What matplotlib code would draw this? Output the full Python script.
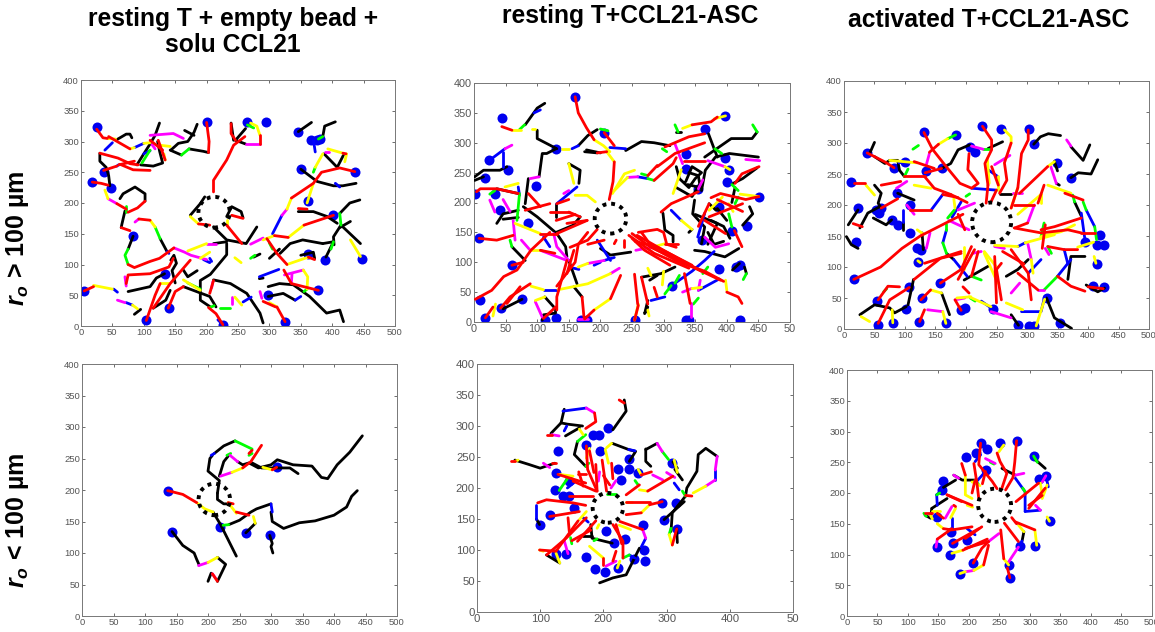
import matplotlib
matplotlib.use('Agg')
import matplotlib.pyplot as plt
from matplotlib.patches import Circle

plt.rcParams['font.family'] = ['Liberation Sans', 'DejaVu Sans']
plt.rcParams['mathtext.fontset'] = 'custom'
plt.rcParams['mathtext.bfit'] = 'Liberation Sans:italic:bold'
plt.rcParams['mathtext.bf'] = 'Liberation Sans:bold'

col_titles = ["resting T + empty bead +\nsolu CCL21", "resting T+CCL21-ASC", "activated T+CCL21-ASC"]
row_titles = [r"$\mathbfit{r}_{\mathbfit{o}}$ > 100 µm", r"$\mathbfit{r}_{\mathbfit{o}}$ < 100 µm"]

# panel A: resting T, empty bead, far
a_dots = [(25,323),(200,331),(265,332),(294,332),(345,316),(367,303),(376,303),(380,304),(37,251),(18,234),(47,225),
          (350,255),(437,250),(362,204),(402,180),(83,146),(362,117),(388,108),(447,109),(133,84),(5,57),(140,30),
          (104,9),(226,2),(297,50),(325,6),(378,58)]
a_center = (212,185)
a_black = [[(57,303),(72,312),(78,312),(81,306)],[(30,281),(30,268),(40,258),(44,245),(46,228)],
           [(89,262),(100,280),(110,296),(118,310),(125,330)],[(95,262),(115,260),(130,265),(125,285),(122,300)],
           [(142,286),(160,278)],[(172,288),(195,284),(203,282)],[(143,286),(155,297),(170,300),(180,315),(185,328)],
           [(165,318),(180,310)],[(62,207),(67,215),(86,226),(102,215),(102,203)],[(70,187),(65,165),(64,160)],
           [(83,146),(75,125)],[(126,142),(137,121)],[(115,29),(135,42),(142,58)],[(75,56),(110,64),(120,78),(133,85)],
           [(143,107),(148,115),(152,102),(145,90),(150,70)],[(232,134),(232,116),(206,84),(190,74),(190,42),(206,31)],
           [(211,161),(232,140),(263,134),(280,161)],[(211,134),(232,137)],[(232,178),(240,194),(255,186),(258,176)],
           [(174,180),(190,199),(197,210)],[(246,302),(262,321)],[(243,302),(239,330)],[(246,302),(262,296)],
           [(385,134),(353,140),(333,134),(317,118)],[(385,134),(402,137),(390,112)],[(412,183),(428,200),(444,205)],
           [(414,164),(402,145),(403,132)],[(414,164),(445,134)],[(412,160),(429,170)],[(346,186),(370,186),(392,178),(408,167)],
           [(418,278),(408,258),(387,280)],[(350,255),(376,235),(402,228),(417,228),(438,232)],[(346,316),(367,331)],
           [(385,308),(388,325),(405,332)],[(284,77),(290,78)],[(298,64),(316,69),(338,67),(364,48),(391,21),(412,26),(418,7)],
           [(298,48),(322,53),(341,42)],[(211,75),(238,69),(264,53),(285,21),(290,5)],[(163,64),(205,48),(215,31)],
           [(95,27),(85,19)],[(163,91),(170,80),(185,90)],[(275,112),(285,117)],[(300,110),(316,125)],[(350,115),(370,120),(372,110)]]
a_red = [[(25,320),(35,306),(42,305)],[(30,281),(59,273),(78,264),(91,262)],[(62,263),(83,254),(110,253)],
         [(18,234),(32,232),(43,229)],[(57,199),(72,190)],[(203,282),(204,300),(200,331)],[(102,203),(90,192),(75,185)],
         [(64,160),(78,155)],[(75,100),(85,95),(110,105),(125,110),(148,127)],[(92,174),(110,172)],[(104,9),(118,50),(126,69)],
         [(115,29),(142,69),(174,107)],[(139,29),(150,56),(163,64)],[(72,69),(75,83),(110,85),(140,96),(147,110)],
         [(232,164),(256,134)],[(240,180),(258,175)],[(187,166),(205,164)],[(211,218),(211,237),(232,270),(243,294),(261,308)],
         [(239,329),(239,313),(246,302)],[(285,296),(285,310)],[(436,251),(412,257),(383,250),(370,232),(335,208)],
         [(308,147),(330,144)],[(355,164),(402,180)],[(346,191),(360,190)],[(123,302),(134,270)],[(110,302),(130,286)],
         [(44,308),(78,288)],[(36,253),(57,260)],[(60,262),(85,268)],[(5,57),(20,64)],[(226,2),(215,20),(203,30)],
         [(296,142),(312,118),(328,100)],[(362,112),(372,108)],[(378,58),(335,69),(323,91)],[(290,40),(310,31)],
         [(312,31),(325,7)],[(211,74),(205,53)],[(417,281),(422,280)]]
a_yellow = [[(42,305),(55,304)],[(38,221),(43,207)],[(232,172),(232,164)],[(174,178),(187,166)],[(110,172),(118,161)],
            [(285,310),(280,325),(270,330)],[(335,208),(328,190)],[(290,140),(308,147)],[(330,144),(355,164)],[(360,200),(370,232)],
            [(373,258),(385,280)],[(393,288),(417,281)],[(423,280),(420,267)],[(429,140),(445,113)],[(20,66),(50,60)],
            [(82,34),(90,28)],[(125,294),(142,292)],[(78,288),(85,290)],[(100,297),(110,298)],[(134,270),(132,280)],[(245,111),(255,103)],
            [(328,100),(362,112)],[(360,60),(361,80),(354,91)],[(125,70),(140,70)],[(245,47),(256,34)],[(312,31),(300,38)],
            [(163,75),(190,58)],[(190,110),(205,120)],[(170,122),(200,134)]]
a_magenta = [[(43,207),(57,199)],[(86,169),(92,174)],[(148,127),(165,120),(175,115),(200,108)],[(262,296),(285,296)],
             [(270,133),(290,143)],[(320,180),(328,190)],[(110,310),(147,313),(163,305)],[(354,91),(324,83)],[(335,70),(336,85)],
             [(58,42),(70,38)],[(388,283),(395,283)],[(240,47),(240,35)],[(285,56),(288,45)],[(200,134),(215,134)],[(210,72),(208,62)],
             [(70,80),(72,65)],[(113,295),(118,288)]]
a_green = [[(72,195),(72,185)],[(75,125),(70,115),(75,100)],[(118,161),(126,142)],[(160,278),(172,288)],[(265,327),(275,322)],
           [(97,265),(110,286)],[(414,164),(412,183)],[(402,137),(398,125)],[(385,308),(378,304)],[(373,258),(370,250)],[(170,70),(190,60)],
           [(222,29),(238,29)],[(305,125),(300,135)],[(270,110),(277,115)],[(360,60),(355,56)],[(205,30),(212,33)]]
a_blue = [[(38,286),(50,298)],[(85,290),(100,297)],[(52,60),(58,55)],[(72,38),(82,34)],[(320,180),(305,150)],[(195,108),(205,103)],
          [(370,303),(373,283)],[(137,121),(140,118)],[(341,42),(350,48)],[(258,39),(271,47)],[(284,80),(315,92)],[(57,260),(60,262)],
          [(100,280),(110,285)],[(405,232),(412,226)],[(218,10),(225,3)],[(205,110),(208,105)]]

# panel B: resting T, ASC, far
b_dots = [(160,377),(44,342),(397,345),(365,323),(206,317),(130,290),(23,271),(54,254),(18,241),(2,215),(98,228),(33,214),
          (41,187),(85,165),(8,140),(60,95),(9,36),(18,7),(42,23),(76,38),(112,3),(129,7),(169,4),(179,3),(254,3),(313,61),
          (336,3),(340,3),(421,3),(388,88),(421,95),(414,92),(408,152),(432,161),(387,193),(451,210),(400,235),(403,254),
          (397,275),(336,282),(336,256),(355,223),(360,137)]
b_center = (216,173)
b_black = [[(175,285),(195,283)],[(165,295),(180,312),(195,322)],[(240,287),(265,302),(285,300),(310,295)],[(320,318),(328,318)],
           [(320,260),(325,240),(340,225),(350,240),(360,250),(345,260),(335,235)],[(360,220),(366,254),(382,276),(404,282),(450,276)],
           [(365,276),(407,307),(440,307),(448,318)],[(371,315),(385,276)],[(448,258),(425,240),(410,232)],[(413,225),(408,200)],
           [(299,182),(302,154),(315,145),(315,134)],[(345,155),(340,150)],[(349,120),(365,118),(397,109),(419,123)],
           [(370,150),(380,130),(395,135)],[(425,162),(441,181),(436,193)],[(349,204),(346,181),(365,159),(360,131)],[(372,198),(383,187)],
           [(275,36),(270,14),(275,25)],[(265,75),(296,81),(318,92)],[(409,87),(420,98)],[(428,92),(431,81)],[(200,123),(216,112),(248,117)],
           [(168,176),(157,162),(130,150)],[(78,193),(100,176),(131,148),(145,126),(147,109)],[(60,126),(81,103)],[(171,42),(158,59)],
           [(150,103),(163,64)],[(112,42),(129,22),(129,15),(110,12),(108,3)],[(1,243),(15,254),(41,254),(52,260)],[(1,237),(15,243)],
           [(81,330),(100,358),(112,366)],[(100,321),(100,307),(131,290)],[(130,290),(115,282),(108,282),(103,243)],[(86,240),(81,198)],
           [(150,265),(168,254),(166,232)],[(129,198),(129,176)],[(36,223),(70,215)],[(36,165),(46,181),(70,187)],[(46,172),(70,175)],
           [(46,22),(76,38)],[(320,225),(345,210),(360,235)],[(350,180),(385,165),(370,130)],[(385,190),(400,170)],
           [(340,250),(355,245),(358,225),(338,230)],[(375,170),(395,160),(405,140)],[(200,283),(178,288)],[(290,78),(278,70)]]
b_red = [[(160,377),(165,350),(178,325),(190,305)],[(195,283),(210,285)],[(222,268),(220,235),(214,205)],[(206,317),(222,295)],
         [(302,293),(340,310),(365,315)],[(345,330),(375,335),(385,343)],[(290,260),(318,282),(365,300)],[(275,245),(290,262)],
         [(285,237),(315,265),(320,275)],[(333,270),(365,270)],[(451,260),(424,248),(413,232)],[(451,210),(430,205),(390,215),(375,208)],
         [(296,184),(312,198),(355,218)],[(412,153),(424,126)],[(355,160),(372,198)],[(372,176),(425,198)],[(365,170),(398,148)],
         [(250,148),(280,125),(320,105),(370,80),(390,70)],[(245,145),(285,115),(340,90)],[(250,140),(270,120),(310,95)],
         [(260,150),(290,155),(300,150),(305,130),(320,125)],[(265,150),(282,125),(325,100),(365,85),(395,68)],[(275,30),(265,75)],
         [(259,30),(254,80)],[(254,3),(260,28)],[(285,58),(290,42)],[(333,81),(342,31)],[(400,50),(418,42),(424,31)],[(302,131),(323,131)],
         [(225,137),(222,131)],[(238,137),(238,126)],[(179,170),(131,148)],[(179,170),(147,165)],[(150,184),(168,176)],[(81,187),(120,198)],
         [(120,184),(150,184)],[(105,148),(131,148)],[(105,120),(128,115)],[(60,95),(78,100)],[(8,140),(36,137),(62,145)],
         [(2,38),(28,53),(47,76),(68,87),(90,120),(120,150)],[(42,23),(57,42),(89,64)],[(52,31),(73,59)],[(18,7),(30,25)],[(232,78),(216,39)],
         [(190,20),(175,5)],[(174,8),(171,42)],[(131,20),(131,42),(147,103)],[(131,60),(160,100),(165,130),(180,150)],[(147,81),(158,120)],
         [(152,125),(180,137),(195,155)],[(180,130),(206,137)],[(110,6),(129,25)],[(4,218),(10,223),(36,223),(70,215)],[(86,215),(105,193)],
         [(44,327),(60,321)],[(131,198),(150,205)],[(255,135),(290,125),(345,95)],[(258,145),(300,120),(360,85)],[(385,205),(425,185)],[(130,170),(160,180)]]
b_yellow = [[(190,305),(205,295),(215,285)],[(210,285),(222,268)],[(140,290),(150,290)],[(330,324),(345,330)],[(380,340),(398,345)],
            [(219,215),(238,248),(254,254)],[(222,220),(243,242)],[(315,215),(328,255)],[(397,260),(405,255)],[(421,214),(450,210)],
            [(328,170),(345,155)],[(372,187),(393,209)],[(403,198),(410,185)],[(345,56),(360,58)],[(398,70),(400,53)],[(285,126),(302,131)],
            [(65,165),(105,148)],[(89,120),(105,120)],[(90,60),(110,54)],[(133,54),(180,64),(216,81)],[(216,39),(190,20)],[(160,212),(179,212),(192,201)],
            [(150,265),(158,232)],[(60,321),(75,321)],[(91,323),(97,323)],[(49,226),(70,232)],[(97,36),(112,42)],[(165,92),(180,98)],[(275,20),(277,10)],
            [(254,3),(260,30)],[(298,62),(300,85)],[(30,10),(34,30)],[(275,90),(280,78)]]
b_magenta = [[(49,290),(60,296)],[(318,298),(330,265)],[(243,242),(259,243)],[(430,272),(452,270)],[(370,270),(397,260)],[(365,142),(382,125),(403,131)],
             [(126,148),(131,126),(150,103)],[(105,120),(147,103)],[(75,137),(89,120)],[(62,170),(65,137)],[(330,50),(344,56)],[(358,70),(355,53)],
             [(256,120),(285,126)],[(216,81),(230,90)],[(165,5),(180,5)],[(180,98),(206,103)],[(97,34),(108,8)],[(89,240),(103,243)],[(142,215),(150,220)],
             [(25,204),(33,184)],[(46,205),(57,185)],[(344,31),(344,8)],[(355,223),(362,238)]]
b_green = [[(200,323),(212,320)],[(298,290),(305,285)],[(265,248),(275,245)],[(275,240),(285,237)],[(441,330),(448,318)],[(381,290),(392,282)],
           [(408,230),(418,220)],[(403,181),(408,159)],[(413,198),(418,209)],[(312,61),(302,47)],[(362,81),(370,92)],[(431,81),(426,71)],[(72,215),(68,170)],
           [(57,137),(60,126)],[(72,322),(80,330)],[(25,214),(33,220)],[(347,30),(355,40)],[(318,65),(325,78)],[(318,330),(323,318)]]
b_blue = [[(155,290),(165,295)],[(215,292),(240,290)],[(259,243),(275,240)],[(312,187),(328,170)],[(365,182),(354,142)],[(355,53),(388,72)],
          [(280,36),(302,42)],[(318,65),(345,85),(365,103),(380,118)],[(110,142),(120,126)],[(195,137),(216,103)],[(206,103),(222,108)],[(110,54),(133,54)],
          [(163,226),(131,198)],[(25,271),(49,290)],[(46,285),(46,260)],[(70,226),(72,212)],[(158,90),(166,88)],[(95,350),(105,355)],[(200,100),(190,95)]]

# panel C: activated T, ASC, far
c_dots = [(131,317),(183,313),(227,327),(257,322),(303,323),(311,298),(38,284),(82,260),(100,270),(160,259),(135,255),(214,285),(206,293),
          (12,237),(87,219),(23,195),(109,200),(52,192),(61,195),(58,187),(78,176),(88,168),(109,155),(20,140),(120,130),(127,128),(121,108),
          (16,80),(107,67),(158,74),(128,50),(54,45),(102,33),(56,7),(80,10),(123,11),(167,9),(199,34),(192,30),(245,33),(286,6),(304,5),(311,5),
          (332,50),(354,10),(349,267),(372,244),(395,140),(419,151),(414,135),(426,135),(415,105),(408,69),(427,67)]
c_center = (242,172)
c_black = [[(160,259),(175,267),(187,289),(206,297)],[(236,291),(260,302)],[(311,298),(322,310),(335,315),(355,312)],[(372,294),(392,272),(403,297)],
           [(372,244),(384,252),(405,250),(416,273)],[(345,270),(350,255)],[(348,235),(353,232)],[(378,205),(389,182)],[(266,85),(285,96),(302,112)],
           [(367,80),(372,117),(395,117)],[(332,50),(345,18),(373,1)],[(274,23),(286,6)],[(197,79),(236,101)],[(168,122),(180,112)],[(397,71),(416,60),(427,66)],
           [(50,232),(61,219),(56,203),(61,195)],[(88,219),(115,208)],[(50,278),(67,267),(75,272),(88,272),(91,256),(99,246)],[(42,283),(50,301)],
           [(7,168),(23,192)],[(26,163),(39,187),(58,197)],[(48,179),(69,168),(78,176)],[(97,172),(97,160)],[(4,149),(12,136),(23,130)],
           [(26,23),(50,39),(75,34),(83,26),(102,36)],[(105,39),(114,80)],[(160,58),(173,23)],[(128,155),(130,128)],[(255,218),(274,218)]]
c_red = [[(131,317),(145,290),(165,265),(190,235),(207,228)],[(155,298),(140,285)],[(205,283),(203,257),(220,235),(209,227)],
         [(227,327),(242,305),(242,289),(231,267),(236,232)],[(242,262),(253,232)],[(236,232),(233,203)],[(250,224),(241,205)],
         [(274,300),(263,268),(267,240),(255,219)],[(302,321),(302,305),(291,283),(285,228),(274,195)],[(288,219),(334,262)],[(328,232),(318,203)],
         [(279,200),(312,200)],[(301,171),(280,163)],[(362,219),(392,208)],[(411,155),(389,155)],[(389,179),(345,165),(323,160)],
         [(279,163),(323,155),(367,160),(389,155)],[(274,128),(302,90),(307,47)],[(350,85),(372,69),(395,61)],[(285,90),(318,63)],[(334,133),(361,128),(383,128)],
         [(258,47),(250,96),(258,106)],[(250,42),(247,117)],[(209,133),(192,96),(158,74)],[(214,128),(187,80)],[(220,125),(209,85)],[(132,106),(192,125)],
         [(16,80),(60,100),(95,130),(125,150),(165,170),(195,185)],[(109,192),(143,192)],[(162,217),(187,212)],[(175,217),(202,204)],[(187,185),(198,160)],
         [(17,235),(34,235)],[(61,232),(93,238)],[(99,246),(132,246)],[(132,246),(148,227),(175,217)],[(61,195),(88,210)],[(38,284),(68,269),(82,260)],
         [(115,270),(148,259)],[(133,252),(160,259)],[(56,9),(75,47),(107,67)],[(56,47),(72,69),(91,68)],[(115,80),(158,114),(192,122)],[(126,47),(142,63)],
         [(124,12),(132,31)],[(192,30),(182,47)],[(195,68),(205,58)],[(15,170),(30,165)],[(400,68),(425,65)],[(330,168),(325,130)],[(260,125),(295,105)]]
c_yellow = [[(170,307),(155,298)],[(235,275),(238,235)],[(252,246),(252,224)],[(263,321),(274,310),(274,300)],[(285,228),(274,195)],[(334,262),(345,270)],
            [(334,232),(372,219)],[(323,217),(323,203)],[(285,185),(323,217)],[(323,149),(356,157),(378,168)],[(297,139),(345,152)],[(247,135),(285,133)],
            [(307,112),(310,90)],[(383,132),(409,140)],[(410,117),(413,106)],[(266,42),(293,31)],[(230,122),(252,74)],[(197,133),(197,96)],[(205,52),(241,36)],
            [(185,50),(208,52)],[(36,232),(50,216)],[(115,232),(143,227)],[(120,160),(130,153)],[(79,31),(80,10)],[(142,63),(160,58)],[(162,28),(167,9)],
            [(28,20),(42,12)],[(75,272),(120,268)],[(329,48),(315,5)],[(180,210),(182,195)],[(125,107),(121,110)],[(250,100),(230,125)]]
c_magenta = [[(140,283),(135,265)],[(209,295),(228,290)],[(247,265),(272,280)],[(277,219),(291,219)],[(339,262),(348,235)],[(312,200),(301,171)],
             [(247,133),(263,130)],[(301,139),(307,112)],[(274,58),(288,74)],[(318,63),(328,63)],[(241,28),(274,18)],[(182,47),(198,50)],[(211,122),(225,125)],
             [(187,192),(214,203)],[(172,175),(205,160)],[(86,227),(103,238)],[(137,31),(162,28)],[(135,130),(141,155)],[(365,305),(372,295)],[(103,200),(115,185)],
             [(330,130),(336,120)]]
c_green = [[(183,313),(170,307)],[(228,290),(240,290)],[(375,216),(378,205)],[(392,205),(397,192)],[(411,165),(414,144)],[(328,171),(323,149)],[(328,63),(350,85)],
           [(209,85),(225,79)],[(162,139),(168,122)],[(168,170),(168,160)],[(170,179),(181,192)],[(99,246),(105,258)],[(113,290),(122,296)],[(334,133),(340,122)],
           [(200,214),(206,218)],[(65,60),(70,65)],[(207,50),(215,45)]]
c_blue = [[(209,227),(250,224)],[(236,257),(252,246)],[(397,192),(411,165)],[(389,187),(395,144)],[(285,133),(297,139)],[(302,90),(323,112)],[(350,85),(372,112)],
          [(361,128),(367,105)],[(329,52),(323,28),(291,28)],[(225,45),(241,34)],[(180,112),(202,85)],[(168,160),(162,139)],[(143,192),(162,217)],[(177,180),(192,205)],
          [(97,192),(97,172)],[(100,270),(90,268)]]

# panel D: resting T, empty bead, close
d_dots = [(136,199),(143,134),(219,141),(260,132),(298,128),(309,236)]
d_center = (210,185)
d_black = [[(208,165),(220,145),(245,95)],[(143,134),(160,112),(178,100),(182,90),(186,81)],[(215,93),(228,82),(215,55)],[(205,68),(200,55)],
           [(233,145),(250,152),(268,165),(277,170),(300,178)],[(300,165),(302,150),(320,139),(345,148),(370,151),(400,160),(420,173),(428,190),(437,199)],
           [(215,195),(215,185),(225,178),(232,178)],[(215,195),(218,215),(200,230),(203,250),(207,255)],[(210,258),(225,270),(243,278)],[(218,222),(225,245),(233,255)],
           [(247,245),(255,240),(265,243),(280,235),(300,240),(310,248),(335,240),(365,238),(380,220),(390,218),(405,240),(425,260),(445,286)],
           [(270,243),(285,235),(310,235),(330,235),(343,226)],[(260,132),(275,147)],[(298,128),(302,115),(300,110),(303,100)]]
d_red = [[(136,199),(160,193),(182,180)],[(215,55),(207,67)],[(245,165),(265,160)],[(255,235),(268,245),(285,271)],[(302,232),(309,236)],[(232,180),(240,178)],[(265,258),(270,263)]]
d_yellow = [[(182,180),(195,170),(208,165)],[(200,85),(215,93)],[(232,180),(245,163)],[(238,228),(255,235)],[(287,236),(302,232)],[(275,147),(272,158)]]
d_magenta = [[(185,80),(200,85)],[(207,67),(212,60)],[(220,222),(238,228)],[(235,255),(247,245)]]
d_green = [[(224,144),(233,145)],[(243,278),(270,265)],[(230,255),(236,258)],[(265,255),(270,258)]]
d_blue = [[(300,178),(302,165)],[(205,255),(210,258)]]

# panel E: resting T, ASC, close
e_dots = [(128,259),(207,296),(173,270),(183,286),(193,286),(194,259),(241,246),(223,231),(241,230),(254,224),(228,213),(309,240),(125,224),(146,211),
          (123,197),(136,187),(146,187),(293,176),(315,176),(154,167),(115,157),(99,141),(296,149),(316,134),(262,141),(234,118),(204,130),(217,111),
          (141,94),(125,93),(173,89),(249,85),(265,100),(266,83),(223,71),(186,69),(203,64)]
e_center = (207,168)
e_black = [[(94,150),(99,141)],[(110,92),(131,79)],[(180,141),(182,119),(214,111)],[(214,272),(240,262),(251,259),(241,243)],[(267,263),(267,243),(275,235)],
           [(267,262),(285,272)],[(310,242),(317,232)],[(313,230),(325,213)],[(380,251),(362,264),(350,254),(348,227),(332,200),(330,187)],
           [(330,187),(309,160),(307,130)],[(316,134),(317,112)],[(296,149),(328,178)],[(138,327),(133,305),(143,303),(167,300)],[(133,305),(117,288)],
           [(140,284),(162,297)],[(159,275),(154,254),(172,235)],[(233,342),(236,324),(215,294)],[(60,245),(82,238),(100,232),(123,240)],
           [(194,47),(215,55),(236,60),(257,103)],[(167,122),(182,122)]]
e_red = [[(188,238),(190,195)],[(198,245),(205,195)],[(173,268),(175,230),(190,195)],[(213,240),(215,215)],[(152,211),(188,195)],[(128,222),(172,208)],
         [(161,226),(168,203)],[(146,187),(183,187)],[(96,176),(110,181),(152,176),(172,172)],[(115,154),(162,162)],[(99,100),(125,98),(160,147)],
         [(110,92),(141,119),(173,152)],[(159,114),(188,147)],[(144,152),(146,130)],[(200,87),(200,76)],[(220,98),(215,82)],[(215,141),(231,114),(231,87)],
         [(220,141),(229,110)],[(226,146),(262,133)],[(236,157),(260,160)],[(273,173),(293,178)],[(236,178),(273,178)],[(236,189),(257,205)],[(270,195),(310,219)],
         [(260,221),(276,226)],[(330,188),(340,187)],[(186,321),(188,307),(172,296)],[(110,286),(118,286)],[(225,342),(233,337)],[(54,243),(60,243)],[(118,240),(125,240)],
         [(309,108),(316,134)],[(160,222),(172,222)],[(150,115),(180,132)],[(178,260),(185,225)],[(200,220),(210,205)]]
e_yellow = [[(99,100),(105,98)],[(125,95),(131,79)],[(178,106),(200,87)],[(162,149),(173,162)],[(260,160),(273,173)],[(236,178),(245,178)],[(257,197),(270,195)],
            [(260,221),(255,230)],[(213,272),(205,265)],[(312,245),(317,225)],[(342,192),(362,203)],[(304,125),(309,108)],[(162,295),(168,286)],[(130,222),(152,219)],
            [(173,248),(178,264)],[(203,262),(208,240)],[(193,141),(190,135)],[(225,140),(243,133)],[(222,71),(226,82)],[(60,243),(65,245)]]
e_magenta = [[(262,133),(267,119)],[(285,272),(293,259)],[(278,221),(294,213)],[(300,225),(313,217)],[(362,203),(377,213)],[(380,251),(377,229)],
             [(173,329),(186,321)],[(118,286),(130,284)],[(105,240),(115,233)],[(192,211),(194,226)],[(204,74),(220,82)],[(138,115),(144,94)],[(212,200),(220,212)]]
e_green = [[(231,87),(241,92)],[(293,259),(303,246)],[(325,195),(330,187)],[(307,135),(304,125)],[(159,275),(172,286)],[(130,196),(143,215)],[(172,235),(177,240)],
           [(148,120),(150,110)],[(185,115),(190,118)],[(205,190),(220,190)],[(255,205),(250,212)]]
e_blue = [[(94,173),(94,150)],[(136,324),(173,329)],[(241,92),(250,87)],[(267,119),(260,105)],[(312,208),(320,197)],[(377,229),(377,213)],[(240,262),(250,260)],
          [(143,200),(155,210)],[(168,152),(176,145)],[(138,292),(142,300)]]

# panel F: activated T, ASC, close
f_dots = [(219,281),(230,271),(212,265),(251,282),(278,285),(306,260),(195,259),(228,237),(158,220),(326,228),(315,223),(156,205),(148,161),(332,154),(171,137),
          (197,124),(173,118),(148,112),(169,100),(284,114),(308,114),(266,83),(267,62),(207,86),(185,69)]
f_center = (242,180)
f_black = [[(175,229),(189,221),(210,221)],[(158,209),(178,221)],[(164,191),(139,175)],[(139,175),(137,159),(128,164)],[(309,254),(325,240)],[(254,240),(276,229)],
           [(290,137),(287,122)]]
f_red = [[(219,281),(216,246),(238,219),(246,207)],[(246,265),(251,251),(262,232),(254,208)],[(278,285),(275,250),(272,225),(260,205)],[(208,248),(213,216),(216,191)],
         [(188,248),(194,229)],[(227,235),(222,215)],[(148,167),(158,159)],[(164,197),(205,180)],[(164,197),(188,186)],[(158,142),(172,140),(205,145)],
         [(148,125),(172,142)],[(173,118),(216,142)],[(194,126),(221,145)],[(190,107),(230,125)],[(194,110),(232,121)],[(207,86),(221,110),(232,121)],[(224,83),(232,115)],
         [(252,140),(257,93)],[(267,62),(263,78)],[(258,151),(281,121)],[(276,153),(308,140)],[(277,186),(314,216)],[(298,175),(325,208)],[(298,180),(320,196)],
         [(270,160),(278,150)],[(128,167),(140,167)],[(175,180),(178,178)],[(210,221),(205,200)]]
f_yellow = [[(257,278),(249,267)],[(194,229),(194,197),(205,191)],[(205,218),(218,212)],[(139,170),(152,170)],[(137,163),(140,158)],[(170,160),(178,175)],[(197,180),(206,177)],
            [(148,150),(158,142)],[(172,102),(190,107)],[(208,74),(224,83)],[(185,69),(194,72)],[(257,93),(265,83)],[(281,148),(290,137)],[(308,140),(311,115)],
            [(320,191),(328,213)],[(317,216),(320,197)],[(328,161),(332,154)]]
f_magenta = [[(227,256),(243,248)],[(161,159),(172,178)],[(175,229),(183,224)],[(194,72),(208,74)],[(232,121),(249,134)],[(265,88),(281,112)],[(317,172),(309,180)],
             [(326,228),(320,218)],[(148,125),(146,112)],[(290,232),(276,229)]]
f_green = [[(306,260),(312,250)],[(235,250),(241,247)],[(147,197),(152,200)],[(126,167),(130,162)],[(209,220),(215,215)],[(292,202),(288,208)]]
f_blue = [[(210,251),(219,262)],[(227,235),(210,216)],[(276,224),(292,202),(292,170)],[(147,197),(148,180)],[(156,205),(147,197)],[(172,159),(172,142)],[(197,142),(210,132)],
          [(287,122),(281,112)],[(317,172),(292,170)],[(326,228),(330,210)]]

panels = [
    dict(box=(81,80,395,326), xstep=50, top_label="500", fs=6.8, dots=a_dots, center=a_center, r=25,
         tracks=[a_black,a_blue,a_green,a_magenta,a_yellow,a_red]),
    dict(box=(474,83,790,322), xstep=50, top_label="50", fs=7.8, dots=b_dots, center=b_center, r=25,
         tracks=[b_black,b_blue,b_green,b_magenta,b_yellow,b_red]),
    dict(box=(844,81,1149,329), xstep=50, top_label="500", fs=6.8, dots=c_dots, center=c_center, r=32,
         tracks=[c_black,c_blue,c_green,c_magenta,c_yellow,c_red]),
    dict(box=(82,364,397,616), xstep=50, top_label="500", fs=6.8, dots=d_dots, center=d_center, r=25,
         tracks=[d_black,d_blue,d_green,d_magenta,d_yellow,d_red]),
    dict(box=(477,364,793,612), xstep=100, top_label="50", fs=8.2, dots=e_dots, center=e_center, r=24,
         tracks=[e_black,e_blue,e_green,e_magenta,e_yellow,e_red]),
    dict(box=(847,370,1152,616), xstep=50, top_label="500", fs=6.8, dots=f_dots, center=f_center, r=27,
         tracks=[f_black,f_blue,f_green,f_magenta,f_yellow,f_red]),
]
track_colors = ['#000000', '#0000ff', '#00ff00', '#ff00ff', '#ffff00', '#ff0000']

W, H = 1155, 632
fig = plt.figure(figsize=(W / 100, H / 100), dpi=100)
fig.patch.set_facecolor('white')

for p in panels:
    x0, y0, x1, y1 = p['box']
    ax = fig.add_axes([x0 / W, 1 - y1 / H, (x1 - x0) / W, (y1 - y0) / H])
    ax.set_xlim(0, 500)
    ax.set_ylim(0, 400)

    xs, ys = zip(*p['dots'])
    ax.plot(xs, ys, 'o', color='#0000f0', ms=7.2, mew=0, zorder=2)

    for segs, c in zip(p['tracks'], track_colors):
        for seg in segs:
            sx, sy = zip(*seg)
            ax.plot(sx, sy, color=c, lw=2.0, solid_capstyle='round', solid_joinstyle='round', zorder=3)

    ax.add_patch(Circle(p['center'], p['r'], fill=False, ec='black', lw=2.8, ls=(0, (1, 1.25)), zorder=4))

    ticks = list(range(0, 501, p['xstep']))
    ax.set_xticks(ticks)
    ax.set_xticklabels([str(t) for t in ticks[:-1]] + [p['top_label']])
    ax.set_yticks(range(0, 401, 50))
    ax.tick_params(direction='in', length=2.5, width=0.6, top=True, right=True, colors='#555555',
                   labelsize=p['fs'], pad=1.5)
    for s in ax.spines.values():
        s.set_color('#777777')
        s.set_linewidth(0.7)

title_x = [233, 630, 989]
title_y = [32, 16.5, 20]
for t, x, y in zip(col_titles, title_x, title_y):
    fig.text(x / W, 1 - y / H, t, ha='center', va='center', fontsize=17.7, fontweight='bold', linespacing=1.15)

for t, y in zip(row_titles, [238, 520]):
    fig.text(18 / W, 1 - y / H, t, ha='center', va='center', rotation=90, fontsize=18, fontweight='bold')

fig.savefig('out.png', dpi=100)
